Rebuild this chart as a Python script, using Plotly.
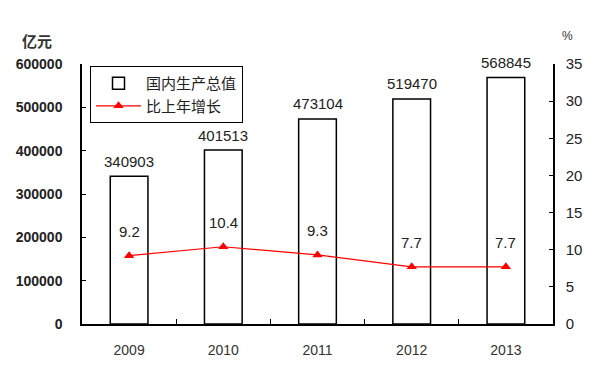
import plotly.graph_objects as go

years = ["2009", "2010", "2011", "2012", "2013"]
gdp = [340903, 401513, 473104, 519470, 568845]
growth = [9.2, 10.4, 9.3, 7.7, 7.7]
gdp_name = "国内生产总值"
growth_name = "比上年增长"

fig = go.Figure()
fig.add_trace(go.Bar(
    x=years, y=gdp, name=gdp_name, width=0.4,
    marker=dict(color="white", line=dict(color="black", width=1.5)),
    yaxis="y",
))
fig.add_trace(go.Scatter(
    x=years, y=growth, name=growth_name, mode="lines+markers",
    line=dict(color="#ff0000", width=1.2),
    marker=dict(symbol="triangle-up", size=9, color="#ff0000"),
    yaxis="y2",
))

annotations = []
for i, v in enumerate(gdp):
    annotations.append(dict(x=i, y=v, xref="x", yref="y", text=str(v), showarrow=False,
                            yshift=15, font=dict(size=15, color="#222")))
for i, v in enumerate(growth):
    annotations.append(dict(x=i, y=v, xref="x", yref="y2", text=f"{v}", showarrow=False,
                            yshift=24, font=dict(size=15, color="#222")))
annotations.append(dict(x=-0.095, y=1.092, xref="paper", yref="paper", text="亿元",
                        showarrow=False,
                        font=dict(family="Noto Sans CJK SC", size=15, color="#333", weight="bold"),
                        xanchor="center", yanchor="middle"))
annotations.append(dict(x=1.03, y=1.108, xref="paper", yref="paper", text="%",
                        showarrow=False, font=dict(size=12, color="#333"),
                        xanchor="center", yanchor="middle"))

fig.update_layout(
    width=600, height=367,
    margin=dict(l=74, r=55, t=56, b=51, autoexpand=False),
    paper_bgcolor="white", plot_bgcolor="white",
    font=dict(family="Liberation Sans, Arial, sans-serif", size=13, color="#222"),
    showlegend=True,
    legend=dict(x=0.017, y=0.992, xanchor="left", yanchor="top",
                bordercolor="black", borderwidth=1, bgcolor="white",
                font=dict(family="Noto Sans CJK SC", size=15, color="#222"),
                tracegroupgap=0, itemwidth=45),
    xaxis=dict(type="category", range=[-0.5, len(years) - 0.5], showline=True,
               linecolor="black", linewidth=1.5, automargin=False,
               ticks="inside", ticklen=5, tickcolor="black", tickson="boundaries",
               ticklabelstandoff=12,
               showgrid=False, tickfont=dict(size=14, color="#333")),
    yaxis=dict(range=[0, 600000], dtick=100000, showline=True, linecolor="black",
               linewidth=1.5, ticks="inside", ticklen=4, tickcolor="black",
               showgrid=False, zeroline=False, automargin=False,
               ticklabelstandoff=15,
               tickfont=dict(size=14, color="#222", weight="bold",
                             family="Liberation Sans, Arial, sans-serif"),
               tickformat="d"),
    yaxis2=dict(range=[0, 35], dtick=5, overlaying="y", side="right", showline=True,
                linecolor="black", linewidth=1.5, ticks="inside", ticklen=4,
                tickcolor="black", showgrid=False, zeroline=False, automargin=False,
                ticklabelstandoff=8,
                tickfont=dict(size=15, color="#222")),
    annotations=annotations,
)

fig.write_html("out.html")
